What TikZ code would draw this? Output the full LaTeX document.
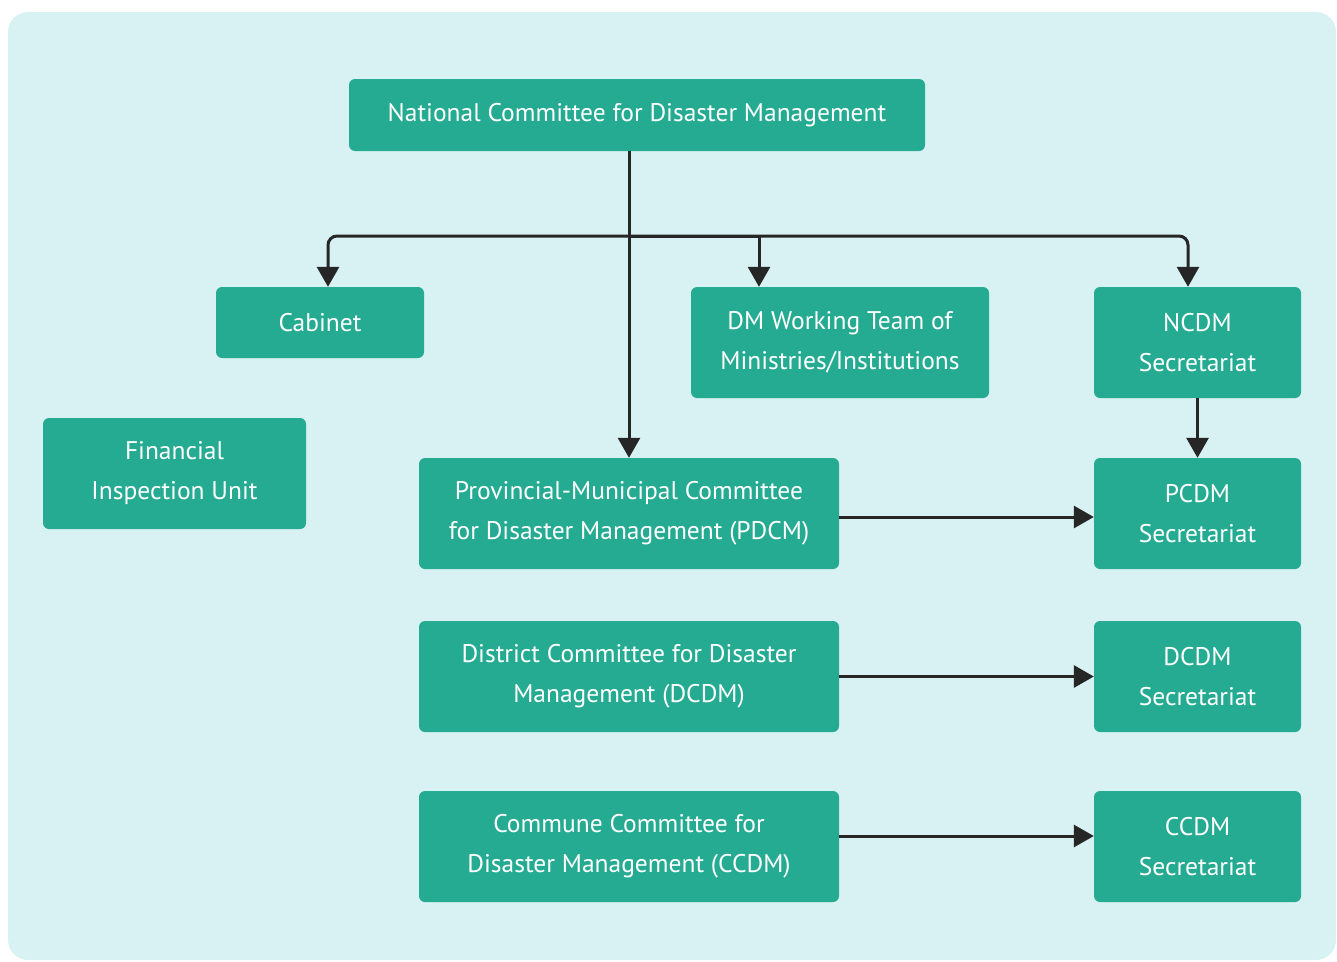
\documentclass[tikz,border=0pt]{standalone}
\usepackage{fontspec}
\setmainfont{PT Sans}
\usetikzlibrary{positioning}
\usetikzlibrary{arrows.meta}
\definecolor{panelbg}{HTML}{D8F2F3}
\definecolor{boxfill}{HTML}{26AB93}
\definecolor{linkcol}{HTML}{262626}
\tikzset{
        orgnode/.style={align=center,inner sep=0pt,rectangle,rounded corners=6pt,fill=boxfill,text=white,
            font=\fontsize{25.5}{40}\selectfont},
        % Committee boxes
        node_committee/.style={orgnode, minimum width=420pt, minimum height=111pt},
        % Secretariat boxes
        node_secretariat/.style={orgnode, minimum width=207pt, minimum height=111pt},
        % Arrows
        link/.style={draw=linkcol, line width=3pt, -{Triangle[width=22pt,length=20pt]}}
}
\begin{document}
\begin{tikzpicture}[x=1pt, y=-1pt]
    \useasboundingbox (0,0) rectangle (1337,961);
    \fill[panelbg, rounded corners=20pt] (8,12) rectangle (1336,960);

    \node[orgnode, minimum width=576pt, minimum height=72pt] (ncdm) at (637,115) {National Committee for Disaster Management};
    \node[orgnode, minimum width=208pt, minimum height=71pt] (cabinet) at (320,322.5) {Cabinet};
    \node[orgnode, minimum width=298pt, minimum height=111pt] (dmteam) at (840,342.5) {DM Working Team of\\Ministries/Institutions};
    \node[node_secretariat] (ncdmsec) at (1197.5,342.5) {NCDM\\Secretariat};
    \node[orgnode, minimum width=263pt, minimum height=111pt] (fiu) at (174.5,473.5) {Financial\\Inspection Unit};

    \node[node_committee] (pdcm) at (629,513.5) {Provincial-Municipal Committee\\for Disaster Management (PDCM)};
    \node[node_secretariat] (pcdmsec) at (1197.5,513.5) {PCDM\\Secretariat};
    \node[node_committee] (dcdm) at (629,676.5) {District Committee for Disaster\\Management (DCDM)};
    \node[node_secretariat] (dcdmsec) at (1197.5,676.5) {DCDM\\Secretariat};
    \node[node_committee] (ccdm) at (629,846.5) {Commune Committee for\\Disaster Management (CCDM)};
    \node[node_secretariat] (ccdmsec) at (1197.5,846.5) {CCDM\\Secretariat};

    \coordinate (bus) at (629,236);

    \draw[link] ([xshift=-8pt]ncdm.south) -- (pdcm.north);
    \draw[link, rounded corners=9pt] (bus) -| ([xshift=8pt]cabinet.north);
    \draw[link] (bus) -| ([xshift=-81pt]dmteam.north);
    \draw[link, rounded corners=9pt] (bus) -| ([xshift=-9.5pt]ncdmsec.north);
    \draw[link] (ncdmsec) -- (pcdmsec);
    \draw[link] ([yshift=-3.5pt]pdcm.east) -- ([yshift=-3.5pt]pcdmsec.west);
    \draw[link] (dcdm) -- (dcdmsec);
    \draw[link] ([yshift=10.5pt]ccdm.east) -- ([yshift=10.5pt]ccdmsec.west);
\end{tikzpicture}
\end{document}
